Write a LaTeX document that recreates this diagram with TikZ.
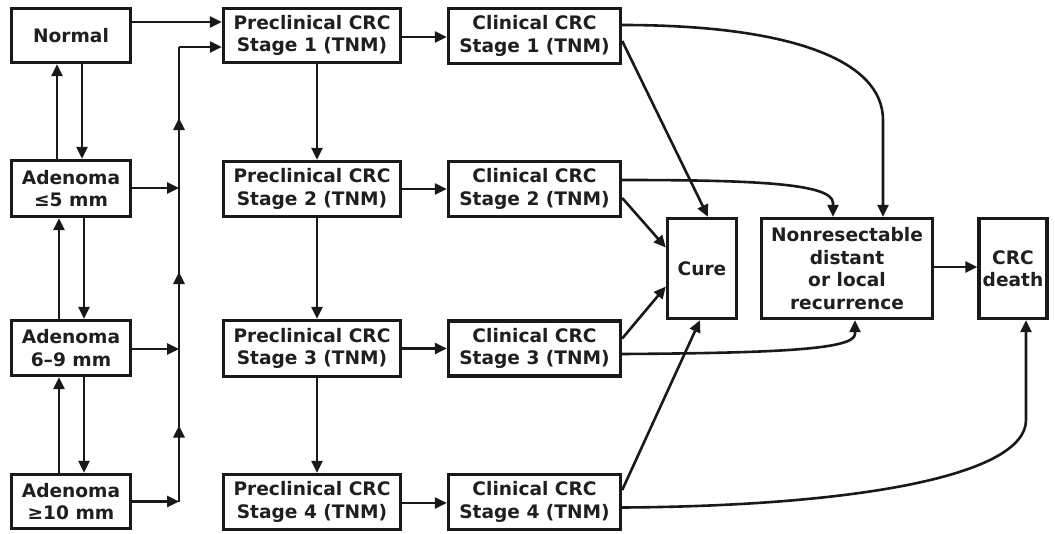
\documentclass[tikz,border=0pt]{standalone}
\usepackage{fontspec}
\setmainfont{DejaVu Sans}
\usetikzlibrary{arrows.meta,calc}
\begin{document}
\begin{tikzpicture}[x=1pt,y=-1pt,
  box/.style={draw=black!90,line width=3.4pt,fill=white,align=center,inner sep=0pt,
    font=\fontsize{18.6}{22.5}\selectfont\bfseries,text=black!88},
  arr/.style={line width=2.6pt,draw=black!90,-{Triangle[length=12pt,width=11pt]}},
  ln/.style={line width=2.6pt,draw=black!90}]
\useasboundingbox (0,0) rectangle (1055,533);
% left column
\node[box,minimum width=119pt,minimum height=54pt] (normal) at (71,35.5) {Normal};
\node[box,minimum width=119pt,minimum height=56pt] (a5) at (71,188.5) {Adenoma\\≤5 mm};
\node[box,minimum width=119pt,minimum height=55pt] (a69) at (71,348) {Adenoma\\6–9 mm};
\node[box,minimum width=119pt,minimum height=54pt] (a10) at (71,501.5) {Adenoma\\≥10 mm};
% preclinical
\node[box,minimum width=177pt,minimum height=54pt] (p1) at (312,35.5) {Preclinical CRC\\Stage 1 (TNM)};
\node[box,minimum width=177pt,minimum height=55pt] (p2) at (312,189) {Preclinical CRC\\Stage 2 (TNM)};
\node[box,minimum width=177pt,minimum height=56pt] (p3) at (312,348.5) {Preclinical CRC\\Stage 3 (TNM)};
\node[box,minimum width=177pt,minimum height=55pt] (p4) at (312,502) {Preclinical CRC\\Stage 4 (TNM)};
% clinical
\node[box,minimum width=172pt,minimum height=55pt] (c1) at (534.5,36) {Clinical CRC\\Stage 1 (TNM)};
\node[box,minimum width=172pt,minimum height=55pt] (c2) at (534.5,189) {Clinical CRC\\Stage 2 (TNM)};
\node[box,minimum width=172pt,minimum height=55pt] (c3) at (534.5,348.5) {Clinical CRC\\Stage 3 (TNM)};
\node[box,minimum width=172pt,minimum height=55pt] (c4) at (534.5,502) {Clinical CRC\\Stage 4 (TNM)};
% outcomes
\node[box,minimum width=69pt,minimum height=100pt] (cure) at (702,268.5) {Cure};
\node[box,minimum width=171pt,minimum height=100pt] (nr) at (847,268.5) {Nonresectable\\distant\\or local\\recurrence};
\node[box,minimum width=68pt,minimum height=100pt] (death) at (1013,268.5) {CRC\\death};
% adenoma vertical transitions
\draw[arr] ([xshift=-14pt]a5.north) -- ([xshift=-14pt]normal.south);
\draw[arr] ([xshift=11pt]normal.south) -- ([xshift=11pt]a5.north);
\draw[arr] ([xshift=-12pt]a69.north) -- ([xshift=-12pt]a5.south);
\draw[arr] ([xshift=13pt]a5.south) -- ([xshift=13pt]a69.north);
\draw[arr] ([xshift=-12pt]a10.north) -- ([xshift=-12pt]a69.south);
\draw[arr] ([xshift=13pt]a69.south) -- ([xshift=13pt]a10.north);
% bus
\coordinate (bt) at (179,47);
\coordinate (b1) at (179,188);
\coordinate (b2) at (179,349);
\coordinate (b3) at (179,501.5);
\draw[arr] (a5.east|-b1) -- (b1);
\draw[arr] (a69.east|-b2) -- (b2);
\draw[arr] (a10.east|-b3) -- (b3);
\draw[ln] (b3) -- (bt);
\draw[arr] (bt) -- (p1.west|-bt);
\draw[arr] (b3) -- ++(0,-76);
\draw[arr] (b2) -- ++(0,-77);
\draw[arr] (b1) -- ++(0,-70);
\draw[arr] ([yshift=13.5pt]normal.east) -- ([yshift=13.5pt]normal.east-|p1.west);
% preclinical chain
\draw[arr] ([xshift=5pt]p1.south) -- ([xshift=5pt]p2.north);
\draw[arr] ([xshift=5pt]p2.south) -- ([xshift=5pt]p3.north);
\draw[arr] ([xshift=5pt]p3.south) -- ([xshift=5pt]p4.north);
\draw[arr] ([yshift=-1.5pt]p1.east) -- ([yshift=-1.5pt]p1.east-|c1.west);
\draw[arr] (p2.east) -- (c2.west);
\draw[arr] (p3.east) -- (c3.west);
\draw[arr] ([yshift=-1pt]p4.east) -- ([yshift=-1pt]p4.east-|c4.west);
% to cure
\draw[arr] ([yshift=-5pt]c1.east) -- ([xshift=6pt]cure.north);
\draw[arr] ([yshift=-9pt]c2.east) -- ([yshift=21pt]cure.west);
\draw[arr] ([yshift=10pt]c3.east) -- ([yshift=-18pt]cure.west);
\draw[arr] ([yshift=12pt]c4.east) -- ([xshift=-2pt]cure.south);
% curves to nonresectable
\coordinate (k1) at (883,120);
\draw[arr] ([yshift=11pt]c1.east) .. controls (790,25) and (883,60) .. (k1) -- (k1|-nr.north);
\coordinate (k2) at (833,203);
\draw[arr] ([yshift=9pt]c2.east) .. controls (750,180) and (833,183) .. (k2) -- (k2|-nr.north);
\coordinate (k3) at (855,334);
\draw[arr] ([yshift=-5.5pt]c3.east) .. controls (770,353) and (855,350) .. (k3) -- (k3|-nr.south);
\coordinate (k4) at (1026,420);
\draw[arr] ([yshift=-5.5pt]c4.east) .. controls (860,506) and (1026,475) .. (k4) -- (k4|-death.south);
\draw[arr] ([yshift=1.5pt]nr.east) -- ([yshift=1.5pt]nr.east-|death.west);
\end{tikzpicture}
\end{document}
